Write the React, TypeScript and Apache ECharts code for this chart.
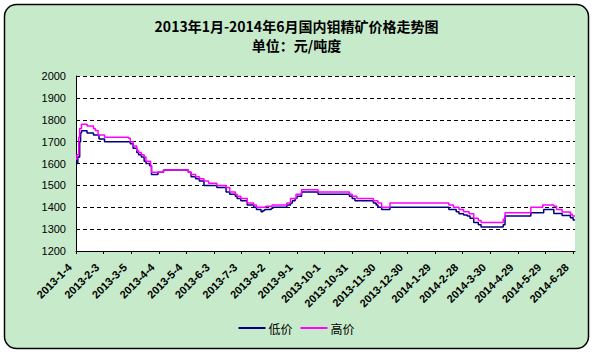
import React, { useEffect, useRef } from "react";
import * as echarts from "echarts";

// day offsets are counted from 2013-01-04
const START_DATE = Date.UTC(2013, 0, 4);
const LAST_DAY = 542;
const TICK_DAYS = [0, 30, 60, 90, 120, 150, 180, 210, 240, 270, 300, 330, 360, 390, 420, 450, 480, 510, 540];
const Y_TICKS = [1200, 1300, 1400, 1500, 1600, 1700, 1800, 1900, 2000];

// low price: day on which the value changes, and the value from that day
const lowDays = [0, 2, 4, 5, 6, 12, 19, 25, 31, 59, 62, 66, 68, 71, 74, 76, 80, 82, 89, 95, 122, 125, 130, 134, 139, 153, 163, 167, 173, 175, 179, 186, 193, 196, 201, 203, 205, 212, 214, 229, 233, 235, 238, 240, 245, 263, 297, 300, 303, 323, 326, 328, 332, 341, 405, 413, 416, 421, 425, 428, 432, 437, 440, 464, 466, 494, 508, 519, 528, 537, 540, 542];
const lowValues = [1600, 1630, 1700, 1740, 1750, 1740, 1730, 1712, 1700, 1690, 1670, 1650, 1640, 1630, 1610, 1600, 1590, 1550, 1560, 1570, 1560, 1540, 1530, 1520, 1500, 1490, 1470, 1460, 1450, 1440, 1430, 1410, 1400, 1390, 1380, 1385, 1390, 1395, 1400, 1410, 1420, 1430, 1440, 1450, 1470, 1460, 1450, 1440, 1430, 1420, 1410, 1400, 1390, 1400, 1390, 1380, 1370, 1365, 1360, 1350, 1330, 1320, 1310, 1320, 1360, 1375, 1390, 1372, 1362, 1352, 1342, 1342];

// high price
const highDays = [0, 1, 3, 4, 6, 12, 19, 21, 24, 31, 57, 59, 62, 66, 68, 71, 74, 76, 81, 82, 95, 122, 125, 130, 134, 139, 144, 153, 163, 167, 173, 175, 179, 186, 193, 196, 206, 213, 229, 233, 239, 245, 263, 297, 300, 305, 323, 328, 332, 341, 405, 410, 416, 421, 427, 432, 437, 440, 464, 466, 494, 507, 519, 522, 528, 537, 539, 542];
const highValues = [1620, 1640, 1720, 1760, 1780, 1772, 1760, 1751, 1730, 1720, 1715, 1700, 1680, 1660, 1650, 1640, 1630, 1610, 1590, 1560, 1570, 1560, 1550, 1540, 1530, 1520, 1510, 1500, 1490, 1470, 1460, 1450, 1440, 1420, 1410, 1400, 1405, 1410, 1420, 1440, 1460, 1480, 1470, 1460, 1450, 1440, 1430, 1420, 1400, 1420, 1410, 1400, 1390, 1380, 1370, 1350, 1340, 1330, 1345, 1375, 1400, 1410, 1405, 1390, 1378, 1368, 1360, 1360];

const SERIES_NAMES = ["低价", "高价"];
const TITLE = "2013年1月-2014年6月国内钼精矿价格走势图";
const SUBTITLE = "单位：元/吨度";

function dayLabel(d: number): string {
  const dt = new Date(START_DATE + d * 86400000);
  return `${dt.getUTCFullYear()}-${dt.getUTCMonth() + 1}-${dt.getUTCDate()}`;
}

export default function App() {
  const ref = useRef<HTMLDivElement>(null);
  useEffect(() => {
    if (!ref.current) return;
    const chart = echarts.init(ref.current, null, { renderer: "svg" });
    const low = lowDays.map((d, i) => [d, lowValues[i]]);
    const high = highDays.map((d, i) => [d, highValues[i]]);
    chart.setOption({
      animation: false,
      backgroundColor: "#ffffff",
      graphic: [
        {
          type: "rect",
          z: -10,
          shape: { x: 4.5, y: 4.5, width: 584, height: 344, r: 12 },
          style: { fill: "#c7ebca", stroke: "#000000", lineWidth: 1.5 },
        },
        {
          type: "text",
          left: "center",
          top: 19,
          style: {
            text: TITLE,
            font: "bold 14px 'Noto Sans CJK SC'",
            fill: "#000",
          },
        },
        {
          type: "text",
          left: "center",
          top: 38,
          style: {
            text: SUBTITLE,
            font: "bold 14px 'Noto Sans CJK SC'",
            fill: "#000",
          },
        },
      ],
      legend: {
        bottom: 13,
        left: "center",
        icon: "rect",
        itemWidth: 27,
        itemHeight: 2,
        itemGap: 8,
        data: SERIES_NAMES,
        textStyle: { fontSize: 12, color: "#000", fontFamily: "'Noto Sans CJK SC'", padding: [0, 0, 0, -2] },
      },
      grid: {
        left: 76,
        right: 18,
        top: 76,
        bottom: 101,
        show: true,
        backgroundColor: "#ffffff",
        borderWidth: 0,
      },
      xAxis: {
        type: "value",
        min: 0,
        max: LAST_DAY,
        interval: 30,
        axisLine: { show: true, lineStyle: { color: "#000", width: 1 } },
        axisTick: { show: true, length: 3, customValues: TICK_DAYS, lineStyle: { color: "#000" } },
        splitLine: { show: false },
        axisLabel: {
          customValues: TICK_DAYS,
          rotate: 45,
          margin: 8,
          padding: [0, 9, 0, 0],
          fontSize: 11,
          fontWeight: "bold",
          fontFamily: "'Liberation Sans', Arial",
          color: "#000",
          formatter: (v: number) => dayLabel(v),
        },
      },
      yAxis: {
        type: "value",
        min: 1200,
        max: 2000,
        interval: 100,
        axisLine: { show: true, lineStyle: { color: "#000", width: 1 } },
        axisTick: { show: false },
        splitLine: { show: true, lineStyle: { color: "#000", type: [4, 3], width: 1 } },
        axisLabel: {
          margin: 10,
          fontSize: 11,
          fontFamily: "'Liberation Sans', Arial",
          color: "#000",
          customValues: Y_TICKS,
          formatter: (v: number) => String(v),
        },
      },
      series: [
        {
          name: SERIES_NAMES[0],
          type: "line",
          step: "end",
          data: low,
          symbol: "none",
          itemStyle: { color: "#000080" },
          lineStyle: { color: "#000080", width: 1.5 },
        },
        {
          name: SERIES_NAMES[1],
          type: "line",
          step: "end",
          data: high,
          symbol: "none",
          itemStyle: { color: "#ff00ff" },
          lineStyle: { color: "#ff00ff", width: 1.5 },
        },
      ],
    });
    return () => chart.dispose();
  }, []);
  return (
    <div
      ref={ref}
      style={{ position: "fixed", left: 0, top: 0, width: 593, height: 352 }}
    />
  );
}
